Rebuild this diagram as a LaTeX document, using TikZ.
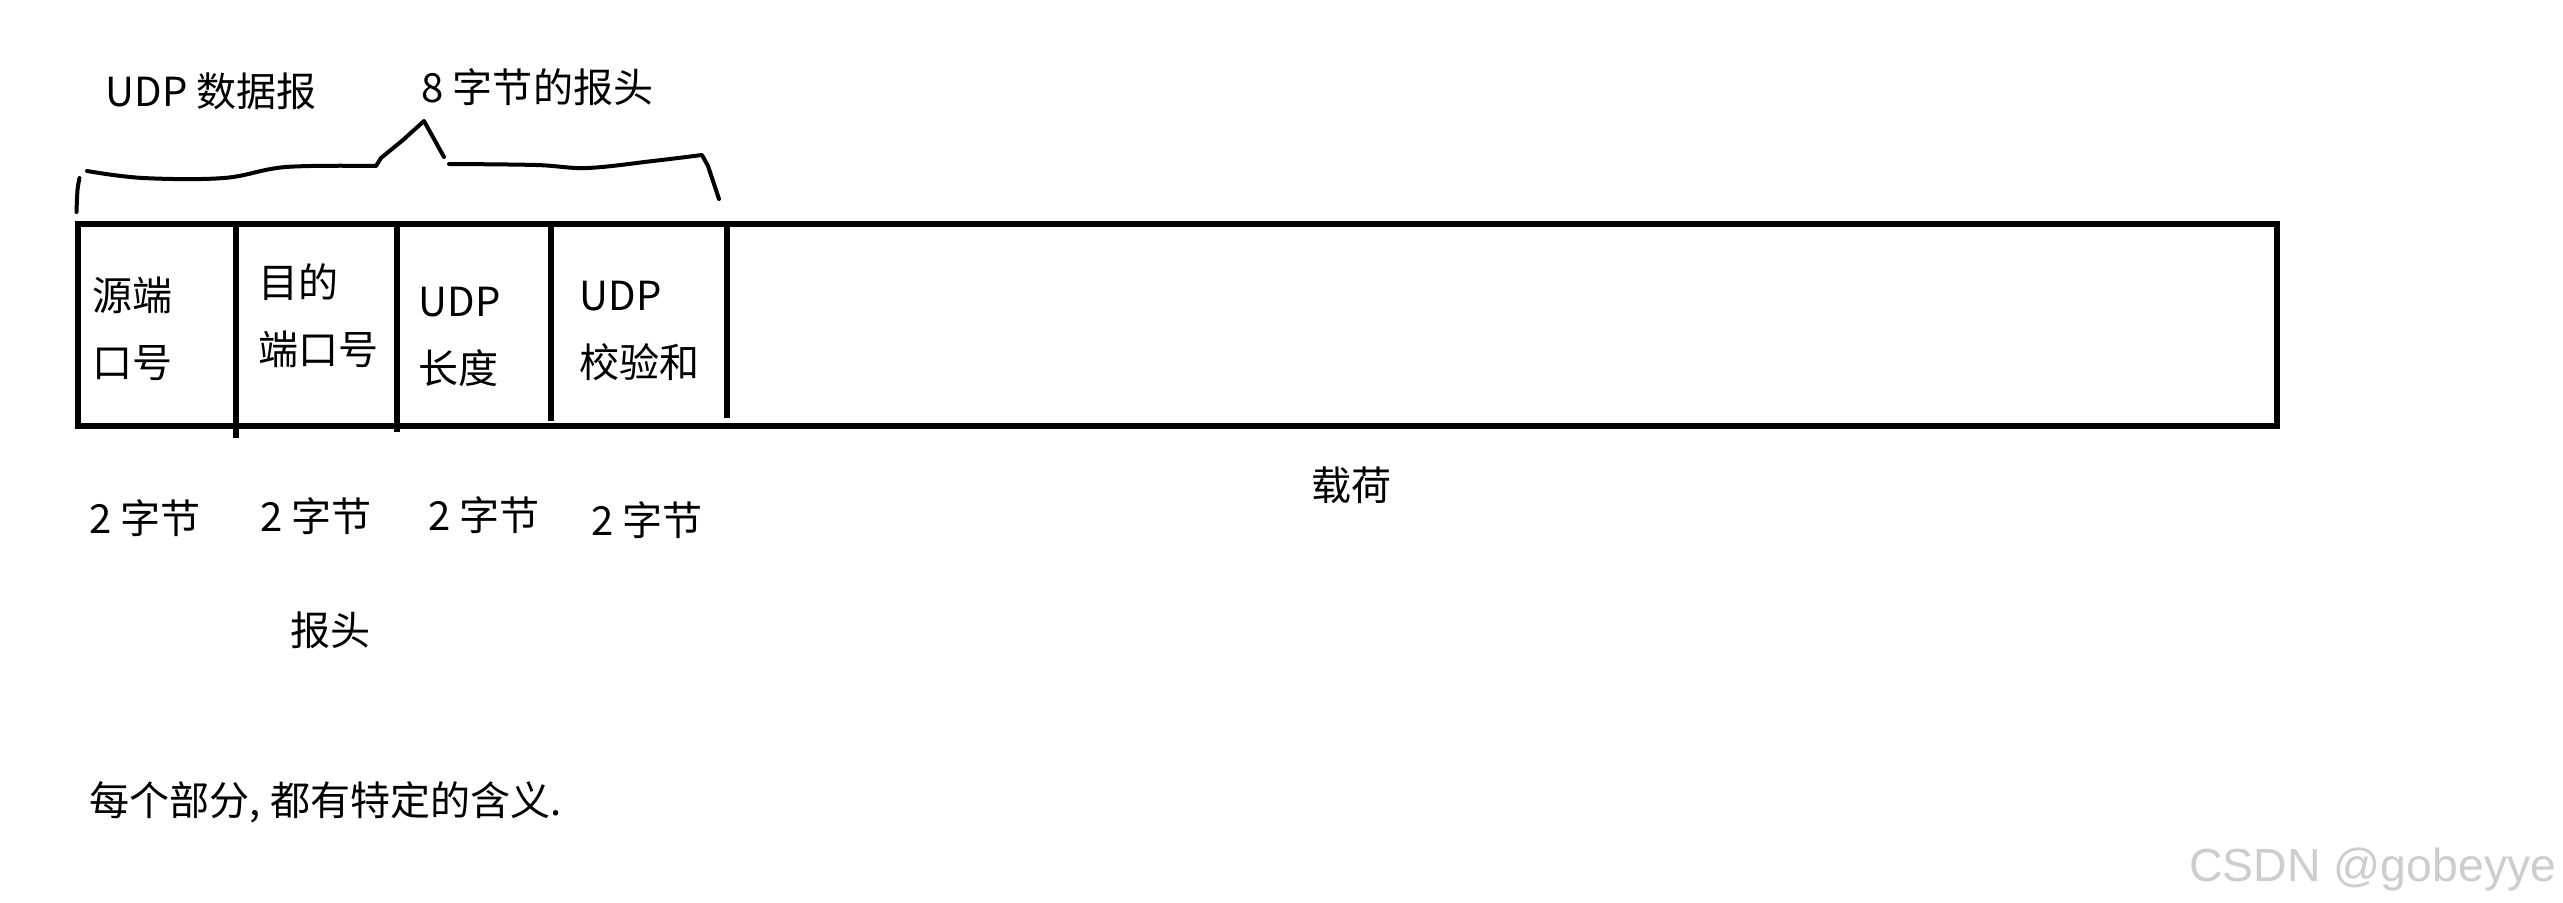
\documentclass[tikz,border=0pt]{standalone}
\usepackage{fontspec}
\setmainfont{Noto Sans CJK SC}
\newfontfamily\wmfont{Liberation Sans}
\begin{document}
\begin{tikzpicture}[x=0.1mm,y=-0.1mm,
  lbl/.style={inner sep=0pt, anchor=west, align=left,
    font=\fontsize{11.4}{19.06}\selectfont},
  boxline/.style={line width=0.6mm, line cap=rect},
  divline/.style={line width=0.55mm},
  brace/.style={line width=0.4mm, line cap=round, line join=round}]
\fill[white] (0,0) rectangle (2563,903);
\useasboundingbox (0,0) rectangle (2563,903);

% outer box
\coordinate (tl) at (78,224);
\coordinate (br) at (2277,426);
\draw[boxline] (tl) rectangle (br);

% dividers
\coordinate (d1t) at (236,224); \coordinate (d1b) at (236,438);
\coordinate (d2t) at (397,224); \coordinate (d2b) at (397,432);
\coordinate (d3t) at (551,226); \coordinate (d3b) at (551,421);
\coordinate (d4t) at (727,226); \coordinate (d4b) at (727,418);
\draw[divline] (d1t) -- (d1b);
\draw[divline] (d2t) -- (d2b);
\draw[divline] (d3t) -- (d3b);
\draw[divline] (d4t) -- (d4b);

% hand-drawn brace
\draw[brace] plot[smooth] coordinates {(76.5,212) (77.5,190) (79.5,178)};
\draw[brace] plot[smooth, tension=0.6] coordinates {(87,171) (143,178) (224,178) (286,167) (376,166)}
  -- (381,158) -- (403,140) -- (424,121) -- (444,157);
\draw[brace] plot[smooth, tension=0.6] coordinates {(449,164) (536,165) (587,168) (653,161) (702,155)}
  -- (708,166) -- (719,199);

% top labels
\node[lbl] (tudp) at (105,91) {UDP 数据报};
\node[lbl] (thdr) at (421,87) {8 字节的报头};

% cell texts
\node[lbl] (c1) at (92,329) {源端\\口号};
\node[lbl] (c2) at (258,316) {目的\\端口号};
\node[lbl] (c3) at (418,337) {UDP\\长度};
\node[lbl] (c4) at (579,331) {UDP\\校验和};

% sizes
\node[lbl] (s1) at (89,518) {2 字节};
\node[lbl] (s2) at (260,516) {2 字节};
\node[lbl] (s3) at (428,515) {2 字节};
\node[lbl] (s4) at (591,520) {2 字节};

\node[lbl] (hdr) at (290,630) {报头};
\node[lbl] (pay) at (1311,485) {载荷};
\node[lbl] (note) at (89,802) {每个部分, 都有特定的含义.};

% watermark
\node[inner sep=0pt, anchor=east, text={rgb,255:red,205;green,205;blue,205},
  font=\wmfont\fontsize{13.2}{15}\selectfont] (wm) at (2557,870) {CSDN @gobeyye};
\end{tikzpicture}
\end{document}
